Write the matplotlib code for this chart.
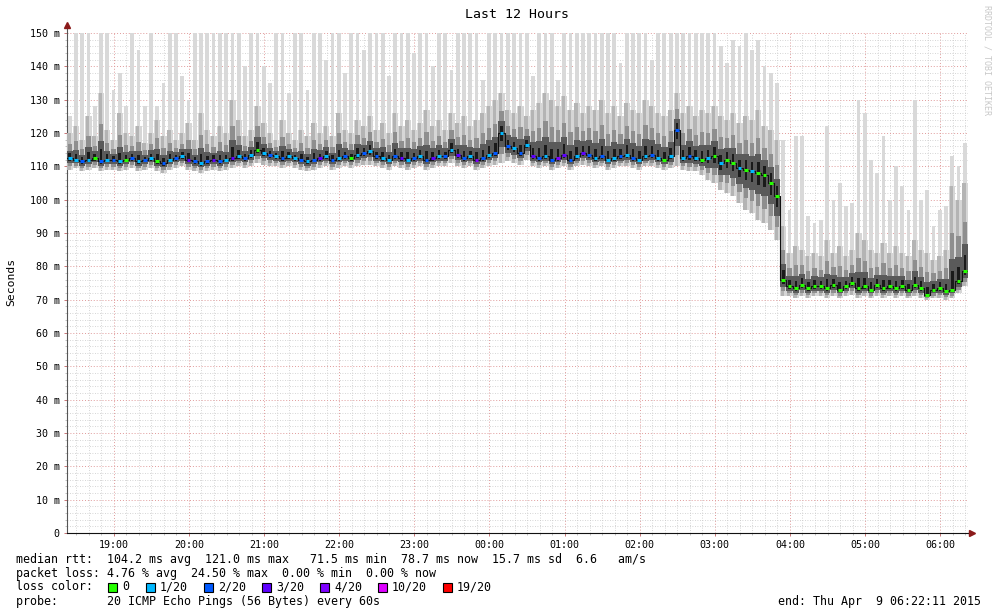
import numpy as np
import matplotlib.pyplot as plt
from matplotlib.patches import Rectangle
from matplotlib.collections import LineCollection

# 5-minute bins from 18:22:11 to 06:22:11 (values in ms)
median = [
    112.5, 112, 111.5, 112, 112.5, 111.5, 112, 112, 111.5, 112, 112.5, 111.5,
    112, 112.5, 111.5, 111, 112, 112.5, 113, 112, 111.5, 111, 111.5, 112,
    111.5, 112, 112.5, 113, 112.5, 113.5, 115, 114, 113.5, 113, 112.5, 113,
    112.5, 112, 111.5, 112, 112.5, 113, 112, 112.5, 113, 112.5, 113.5, 114,
    114.5, 113, 112.5, 112, 113, 112.5, 112, 112.5, 113, 112, 112.5, 113,
    113, 115, 113.5, 112.5, 113, 112, 112.5, 113.5, 114, 120, 116, 115.5,
    114, 116.5, 113, 112.5, 113, 112, 112.5, 113.5, 112, 113, 114, 113.5,
    112.5, 113, 112, 112.5, 113, 113.5, 112.5, 112, 113, 113.5, 112.5, 112,
    113, 121, 112.5, 113, 112.5, 112, 112.5, 113, 111, 112, 111, 109.5,
    109, 108.5, 108, 107.5, 105, 101, 76, 74, 73.5, 74.5, 73.5, 74,
    74, 73.5, 74.5, 73, 74, 75, 73.5, 74, 73, 74.5, 73.5, 74,
    73.5, 74, 73, 74.5, 73.5, 71.5, 73, 73.5, 72.5, 73, 75.5, 78.7,
]
loss = [
    1, 1, 2, 1, 0, 2, 1, 2, 1, 0, 2, 1,
    2, 1, 0, 2, 1, 2, 1, 3, 2, 1, 2, 3,
    2, 1, 3, 1, 2, 1, 0, 1, 2, 1, 2, 1,
    1, 2, 1, 2, 3, 1, 2, 1, 2, 0, 1, 2,
    1, 2, 1, 1, 2, 3, 1, 2, 1, 2, 3, 1,
    2, 1, 3, 2, 1, 4, 2, 1, 2, 1, 2, 1,
    2, 1, 3, 2, 1, 2, 4, 3, 2, 1, 3, 2,
    1, 2, 1, 1, 2, 1, 2, 1, 1, 2, 1, 0,
    1, 2, 1, 2, 1, 0, 1, 0, 1, 0, 0, 1,
    0, 1, 0, 0, 0, 0, 0, 0, 0, 0, 0, 0,
    0, 0, 0, 0, 0, 0, 0, 0, 0, 0, 0, 0,
    0, 0, 0, 0, 0, 0, 0, 0, 0, 0, 0, 0,
]
smoke_lo = [
    109, 109.5, 108.5, 109, 109.5, 108.5, 109, 109, 108.5, 109, 109.5, 108.5,
    109, 109.5, 108.5, 108, 109, 109.5, 110, 109, 108.5, 108, 108.5, 109,
    108.5, 109, 109.5, 110, 109.5, 110, 111, 110.5, 110, 110, 109.5, 110,
    109.5, 109, 108.5, 109, 109.5, 110, 109, 109.5, 110, 109.5, 110, 110.5,
    110.5, 110, 109.5, 109, 110, 109.5, 109, 109.5, 110, 109, 109.5, 110,
    110, 111, 110, 109.5, 110, 109, 109.5, 110, 110.5, 111, 111.5, 111,
    110.5, 112, 110, 109.5, 110, 109, 109.5, 110, 109, 110, 110.5, 110,
    109.5, 110, 109, 109.5, 110, 110, 109.5, 109, 110, 110, 109.5, 109,
    109.5, 110, 109, 108.5, 108.5, 107.5, 106, 105, 103, 102, 101, 99,
    97, 96, 94, 93, 91, 88, 71, 71, 70.5, 71, 70.5, 71,
    71, 70.5, 71, 70.5, 71, 71.5, 70.5, 71, 70.5, 71, 70.5, 71,
    70.5, 71, 70.5, 71, 70.5, 70, 70.5, 70.5, 70, 70.5, 72, 74,
]
smoke_mid = [
    120, 122, 118, 125, 119, 132, 121, 118, 126, 120, 119, 122,
    117, 120, 124, 119, 121, 118, 120, 123, 118, 126, 121, 119,
    122, 120, 130, 124, 119, 121, 128, 123, 120, 118, 124, 120,
    118, 121, 119, 123, 120, 122, 119, 126, 121, 120, 124, 122,
    125, 121, 123, 120, 126, 122, 124, 121, 123, 127, 122, 124,
    121, 126, 123, 125, 122, 124, 126, 128, 130, 132, 127, 126,
    128, 125, 127, 129, 132, 130, 128, 131, 127, 129, 126, 128,
    127, 130, 126, 128, 125, 129, 127, 126, 130, 128, 126, 125,
    127, 132, 126, 128, 125, 127, 126, 128, 125, 124, 126, 123,
    125, 124, 127, 122, 121, 118, 92, 84, 86, 85, 83, 84,
    83, 88, 84, 86, 83, 85, 90, 88, 85, 84, 87, 84,
    86, 84, 83, 88, 85, 84, 82, 83, 85, 104, 100, 105,
]
smoke_hi = [
    125, 150, 150, 150, 128, 150, 150, 133, 138, 128, 150, 145,
    128, 150, 128, 135, 150, 150, 137, 130, 150, 150, 150, 150,
    150, 150, 150, 150, 140, 150, 150, 140, 135, 150, 150, 132,
    150, 150, 133, 150, 150, 142, 150, 150, 138, 150, 150, 145,
    150, 150, 150, 137, 150, 150, 150, 144, 150, 150, 140, 150,
    150, 139, 150, 150, 150, 150, 136, 150, 150, 150, 150, 150,
    150, 150, 137, 150, 150, 150, 136, 150, 150, 150, 150, 150,
    150, 150, 150, 150, 141, 150, 150, 150, 150, 142, 150, 150,
    150, 150, 150, 150, 150, 150, 150, 150, 146, 141, 148, 146,
    150, 145, 148, 140, 138, 135, 118, 97, 119, 119, 95, 93,
    94, 122, 100, 105, 98, 99, 130, 126, 112, 108, 119, 100,
    110, 104, 97, 130, 100, 103, 92, 97, 98, 113, 110, 117,
]

hours = [19, 20, 21, 22, 23, 24, 25, 26, 27, 28, 29, 30]
loss_levels = ["0", "1/20", "2/20", "3/20", "4/20", "10/20", "19/20"]
loss_colors = ["#26ff00", "#00b8ff", "#0059ff", "#5e00ff", "#7e00ff", "#dd00ff", "#ff0000"]

med = np.array(median)
lo = np.array(smoke_lo)
mid = np.array(smoke_mid)
hi = np.array(smoke_hi)
t = np.arange(len(med)) * 5.0
start = 18 * 60 + 22 + 11 / 60.0

W, H = 997, 615
fig = plt.figure(figsize=(W / 100, H / 100), dpi=100)
mono = "DejaVu Sans Mono"

def px(x):
    return x / W

def py(y):
    return 1 - y / H

ax = fig.add_axes([px(66.5), 82 / H, 901.5 / W, 500 / H])
ax.set_xlim(0, 720)
ax.set_ylim(0, 150)

# smoke layers, light to dark
ax.bar(t + 1.0, hi - lo, bottom=lo, width=3.0, align="edge", color="#d9d9d9", lw=0, zorder=2)
ax.bar(t, mid - lo, bottom=lo, width=5.0, align="edge", color="#d6d6d6", lw=0, zorder=3)
ax.bar(t + 0.6, mid - lo, bottom=lo, width=2.6, align="edge", color="#b4b4b4", lw=0, zorder=3)
d1_lo = lo + (med - lo) * 0.3
d1_hi = med + (mid - med) * 0.55
ax.bar(t + 0.8, d1_hi - d1_lo, bottom=d1_lo, width=3.4, align="edge", color="#8e8e8e", lw=0, zorder=4)
d2_lo = lo + (med - lo) * 0.55
d2_hi = med + (mid - med) * 0.3
ax.bar(t, d2_hi - d2_lo, bottom=d2_lo, width=5.0, align="edge", color="#5a5a5a", lw=0, zorder=5)
d3_lo = lo + (med - lo) * 0.75
d3_hi = med + (mid - med) * 0.18
ax.bar(t + 1.5, d3_hi - d3_lo, bottom=d3_lo, width=2.0, align="edge", color="#1a1a1a", lw=0, zorder=6)

# median connection and loss coloured median marks
ax.step(np.append(t, 720), np.append(med, med[-1]), where="post", color="#111111", lw=0.8, zorder=7)
segs = [[(ti + 1.0, m), (ti + 4.0, m)] for ti, m in zip(t, med)]
cols = [loss_colors[l] for l in loss]
ax.add_collection(LineCollection(segs, colors=cols, linewidths=2.2, zorder=8))

# axes and grid
xt = [h * 60 - start for h in hours]
ax.set_xticks(xt)
ax.set_xticklabels(["%02d:00" % (h % 24) for h in hours], fontfamily=mono, fontsize=7.2)
ax.set_xticks([m - start for m in range(18 * 60 + 30, 30 * 60 + 30, 10)], minor=True)
ax.set_yticks(range(0, 151, 10))
ax.set_yticklabels(["0"] + ["%d m" % v for v in range(10, 151, 10)], fontfamily=mono, fontsize=7.2)
ax.set_yticks(range(0, 151, 2), minor=True)
ax.grid(which="minor", color="#c8c8c8", linestyle=(0, (1, 2)), linewidth=0.6, zorder=0)
ax.grid(which="major", color="#e09a9a", linestyle=(0, (1, 2)), linewidth=0.7, zorder=1)
ax.set_axisbelow(True)
ax.tick_params(axis="both", which="major", length=2, width=0.6, color="#c06060", pad=3)
ax.tick_params(axis="both", which="minor", length=1.5, width=0.5, color="#aaaaaa")
for s in ["top", "right"]:
    ax.spines[s].set_visible(False)
ax.spines["left"].set_color("#555555")
ax.spines["bottom"].set_color("#111111")
ax.spines["left"].set_linewidth(0.8)
ax.spines["bottom"].set_linewidth(0.8)
ax.plot([0, 0], [150, 152], color="#555555", lw=0.8, clip_on=False, zorder=9)
ax.plot([720, 722.5], [0, 0], color="#111111", lw=0.8, clip_on=False, zorder=9)
ax.plot([0], [152.5], marker="^", color="#8b1a1a", markersize=4, clip_on=False, zorder=10)
ax.plot([723], [0], marker=">", color="#8b1a1a", markersize=4, clip_on=False, zorder=10)

# texts
fig.text(px(517), py(14), "Last 12 Hours", ha="center", va="center", fontfamily=mono, fontsize=9.5)
fig.text(px(11), py(282), "Seconds", rotation=90, ha="center", va="center", fontfamily=mono, fontsize=8.2)
fig.text(px(987), py(5), "RRDTOOL / TOBI OETIKER", rotation=270, ha="center", va="top",
         fontfamily=mono, fontsize=6, color="#c8c8c8")

fs = 8.4
fig.text(px(16), py(559), "median rtt:  104.2 ms avg  121.0 ms max   71.5 ms min  78.7 ms now  15.7 ms sd  6.6   am/s",
         va="center", fontfamily=mono, fontsize=fs)
fig.text(px(16), py(573), "packet loss: 4.76 % avg  24.50 % max  0.00 % min  0.00 % now",
         va="center", fontfamily=mono, fontsize=fs)
fig.text(px(16), py(587), "loss color:", va="center", fontfamily=mono, fontsize=fs)
box_x = [108, 146, 204, 262, 320, 378, 443]
for bx, lab, c in zip(box_x, loss_levels, loss_colors):
    fig.add_artist(Rectangle((px(bx), py(591.5)), 9 / W, 9 / H, transform=fig.transFigure,
                             facecolor=c, edgecolor="black", lw=0.8))
    fig.text(px(bx + 14), py(587), lab, va="center", fontfamily=mono, fontsize=fs)
fig.text(px(16), py(601), "probe:       20 ICMP Echo Pings (56 Bytes) every 60s",
         va="center", fontfamily=mono, fontsize=fs)
fig.text(px(981), py(601), "end: Thu Apr  9 06:22:11 2015", ha="right", va="center",
         fontfamily=mono, fontsize=fs)

fig.savefig("out.png", dpi=100)
